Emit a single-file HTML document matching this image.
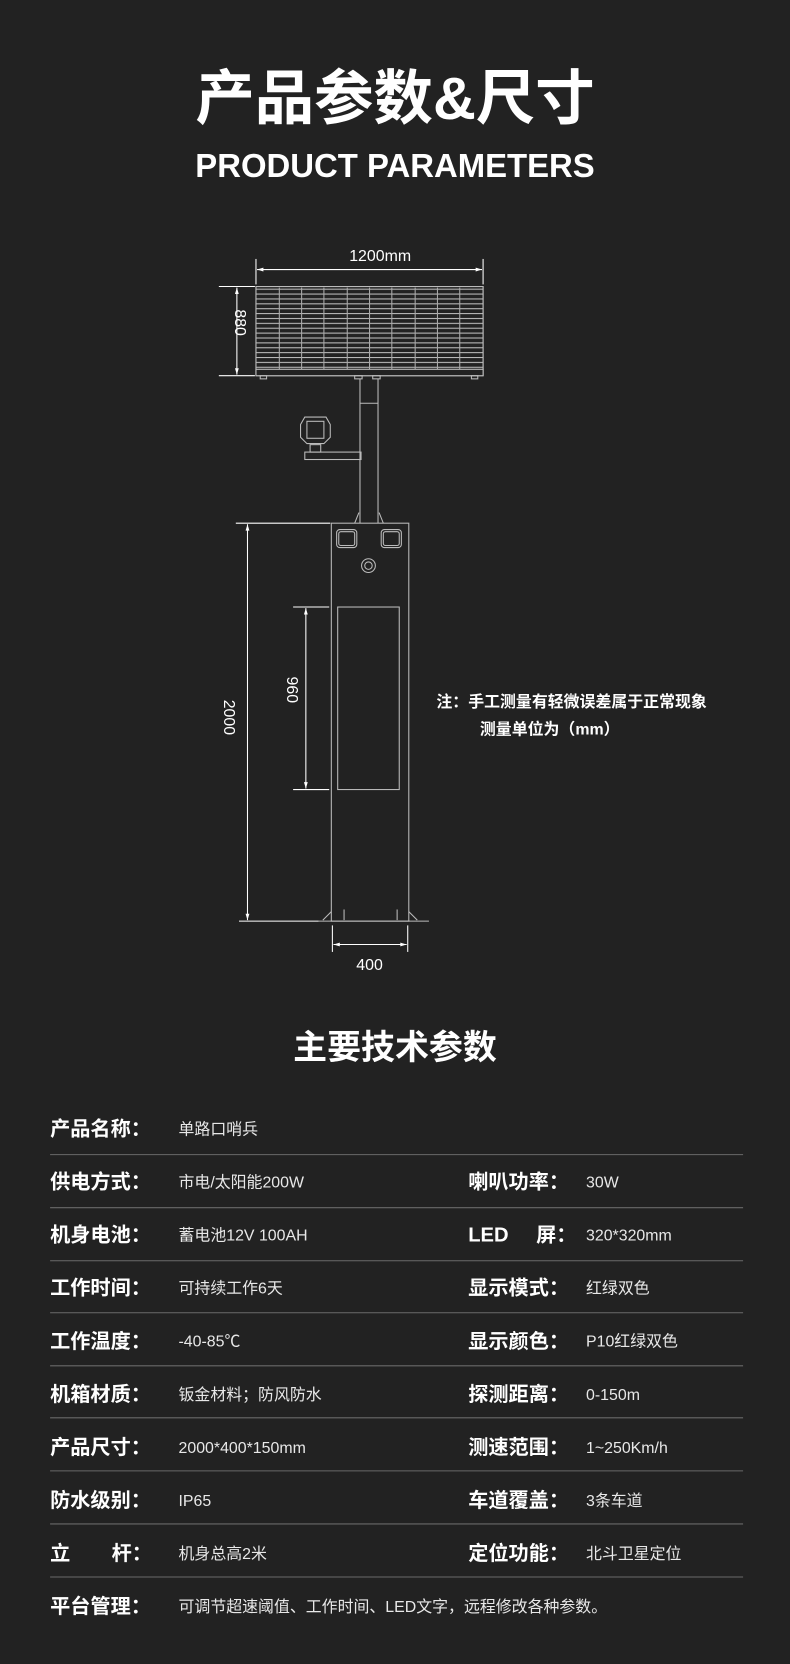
<!DOCTYPE html>
<html><head><meta charset="utf-8"><style>
html,body{margin:0;padding:0;background:#222;}
svg{display:block;}
text{font-family:"Liberation Sans","Noto Sans CJK SC",sans-serif;fill:#fff;}
.b{font-weight:bold;}
.lab{font-size:19px;font-weight:bold;}
.val{font-size:15px;fill:#e8e8e8;}
</style></head><body>
<svg width="790" height="1664" viewBox="0 0 744 1568" xmlns="http://www.w3.org/2000/svg">
<defs>
<pattern id="hs" x="0" y="272" width="10" height="4.6" patternUnits="userSpaceOnUse">
<rect x="0" y="0" width="10" height="1" fill="#bbb"/>
</pattern>
<marker id="ar" viewBox="0 0 10 10" refX="10" refY="5" markerWidth="8" markerHeight="6" orient="auto-start-reverse"><path d="M0,2 L10,5 L0,8 z" fill="#fff"/></marker>
</defs>
<rect width="744" height="1568" fill="#222"/>
<text x="372" y="112" text-anchor="middle" class="b" style="font-size:56px">产品参数&amp;尺寸</text>
<text x="372" y="167" text-anchor="middle" class="b" style="font-size:31px">PRODUCT PARAMETERS</text>

<g stroke="#bbb" fill="none" stroke-width="1">
<rect x="241" y="270" width="214" height="84" fill="url(#hs)"/>
<rect x="241" y="270" width="214" height="84"/>
<g stroke="#aaa">
<line x1="263" y1="271" x2="263" y2="348"/><line x1="284" y1="271" x2="284" y2="348"/>
<line x1="305" y1="271" x2="305" y2="348"/><line x1="327" y1="271" x2="327" y2="348"/>
<line x1="348" y1="271" x2="348" y2="348"/><line x1="369" y1="271" x2="369" y2="348"/>
<line x1="391" y1="271" x2="391" y2="348"/><line x1="412" y1="271" x2="412" y2="348"/>
<line x1="433" y1="271" x2="433" y2="348"/>
</g>
<rect x="241" y="348" width="214" height="6" fill="#222"/>
<rect x="245" y="354" width="6" height="3"/><rect x="444" y="354" width="6" height="3"/>
<rect x="334" y="354" width="7" height="3"/><rect x="351" y="354" width="7" height="3"/>
<line x1="339" y1="357" x2="339" y2="493"/><line x1="356" y1="357" x2="356" y2="493"/>
<line x1="339" y1="380" x2="356" y2="380"/>
<path d="M287,393 L307,393 L311,400 L311,412 L305,418 L289,418 L283,412 L283,400 Z"/>
<rect x="289" y="397" width="16" height="16"/>
<rect x="292" y="419" width="10" height="7"/>
<rect x="287" y="426" width="53" height="7"/>
<path d="M334,493 L338,483 M361,493 L357,483"/>
<rect x="312" y="493" width="73" height="375"/>
<rect x="317" y="499" width="19" height="17" rx="3"/><rect x="319" y="501" width="15" height="13" rx="2"/>
<rect x="359" y="499" width="19" height="17" rx="3"/><rect x="361" y="501" width="15" height="13" rx="2"/>
<circle cx="347" cy="533" r="6.5"/><circle cx="347" cy="533" r="3.5"/>
<rect x="318" y="572" width="58" height="172"/>
<line x1="300" y1="868" x2="404" y2="868"/>
<path d="M312,859 L304,867 M385,859 L393,867"/>
<line x1="324" y1="857" x2="324" y2="867"/><line x1="374" y1="857" x2="374" y2="867"/>
</g>

<g stroke="#fff" stroke-width="1" fill="none">
<line x1="241" y1="244" x2="241" y2="268"/><line x1="455" y1="244" x2="455" y2="268"/>
<line x1="242" y1="254" x2="454" y2="254" marker-start="url(#ar)" marker-end="url(#ar)"/>
<line x1="206" y1="270" x2="240" y2="270"/><line x1="206" y1="354" x2="240" y2="354"/>
<line x1="223" y1="271" x2="223" y2="353" marker-start="url(#ar)" marker-end="url(#ar)"/>
<line x1="222" y1="493" x2="311" y2="493"/><line x1="225" y1="868" x2="300" y2="868"/>
<line x1="233" y1="494" x2="233" y2="867" marker-start="url(#ar)" marker-end="url(#ar)"/>
<line x1="276" y1="572" x2="310" y2="572"/><line x1="276" y1="744" x2="310" y2="744"/>
<line x1="288" y1="573" x2="288" y2="743" marker-start="url(#ar)" marker-end="url(#ar)"/>
<line x1="313" y1="872" x2="313" y2="897"/><line x1="384" y1="872" x2="384" y2="897"/>
<line x1="314" y1="890" x2="383" y2="890" marker-start="url(#ar)" marker-end="url(#ar)"/>
</g>
<text x="358" y="246" text-anchor="middle" style="font-size:15px">1200mm</text>
<text transform="translate(221,304) rotate(90)" text-anchor="middle" style="font-size:15px">880</text>
<text transform="translate(211,676) rotate(90)" text-anchor="middle" style="font-size:15px">2000</text>
<text transform="translate(270,650) rotate(90)" text-anchor="middle" style="font-size:15px">960</text>
<text x="348" y="914" text-anchor="middle" style="font-size:15px">400</text>

<text x="411" y="666" class="b" style="font-size:15px">注：手工测量有轻微误差属于正常现象</text>
<text x="452" y="692" class="b" style="font-size:15px">测量单位为（mm）</text>

<text x="372" y="998" text-anchor="middle" class="b" style="font-size:32px">主要技术参数</text>

<g stroke="#6a6a6a" stroke-width="1">
<line x1="47" y1="1088" x2="700" y2="1088"/><line x1="47" y1="1138" x2="700" y2="1138"/>
<line x1="47" y1="1188" x2="700" y2="1188"/><line x1="47" y1="1237" x2="700" y2="1237"/>
<line x1="47" y1="1287" x2="700" y2="1287"/><line x1="47" y1="1336" x2="700" y2="1336"/>
<line x1="47" y1="1386" x2="700" y2="1386"/><line x1="47" y1="1436" x2="700" y2="1436"/>
<line x1="47" y1="1486" x2="700" y2="1486"/>
</g>
<g>
<text x="47" y="1070" class="lab">产品名称：</text><text x="168" y="1069" class="val">单路口哨兵</text>
<text x="47" y="1120" class="lab">供电方式：</text><text x="168" y="1119" class="val">市电/太阳能200W</text>
<text x="441" y="1120" class="lab">喇叭功率：</text><text x="552" y="1119" class="val">30W</text>
<text x="47" y="1170" class="lab">机身电池：</text><text x="168" y="1169" class="val">蓄电池12V  100AH</text>
<text x="441" y="1170" class="lab">LED</text><text x="505" y="1170" class="lab">屏：</text><text x="552" y="1169" class="val">320*320mm</text>
<text x="47" y="1220" class="lab">工作时间：</text><text x="168" y="1219" class="val">可持续工作6天</text>
<text x="441" y="1220" class="lab">显示模式：</text><text x="552" y="1219" class="val">红绿双色</text>
<text x="47" y="1270" class="lab">工作温度：</text><text x="168" y="1269" class="val">-40-85℃</text>
<text x="441" y="1270" class="lab">显示颜色：</text><text x="552" y="1269" class="val">P10红绿双色</text>
<text x="47" y="1320" class="lab">机箱材质：</text><text x="168" y="1319" class="val">钣金材料；防风防水</text>
<text x="441" y="1320" class="lab">探测距离：</text><text x="552" y="1319" class="val">0-150m</text>
<text x="47" y="1370" class="lab">产品尺寸：</text><text x="168" y="1369" class="val">2000*400*150mm</text>
<text x="441" y="1370" class="lab">测速范围：</text><text x="552" y="1369" class="val">1~250Km/h</text>
<text x="47" y="1420" class="lab">防水级别：</text><text x="168" y="1419" class="val">IP65</text>
<text x="441" y="1420" class="lab">车道覆盖：</text><text x="552" y="1419" class="val">3条车道</text>
<text x="47" y="1470" class="lab">立</text><text x="105" y="1470" class="lab">杆：</text><text x="168" y="1469" class="val">机身总高2米</text>
<text x="441" y="1470" class="lab">定位功能：</text><text x="552" y="1469" class="val">北斗卫星定位</text>
<text x="47" y="1520" class="lab">平台管理：</text><text x="168" y="1519" class="val">可调节超速阈值、工作时间、LED文字，远程修改各种参数。</text>
</g>
</svg>
</body></html>
